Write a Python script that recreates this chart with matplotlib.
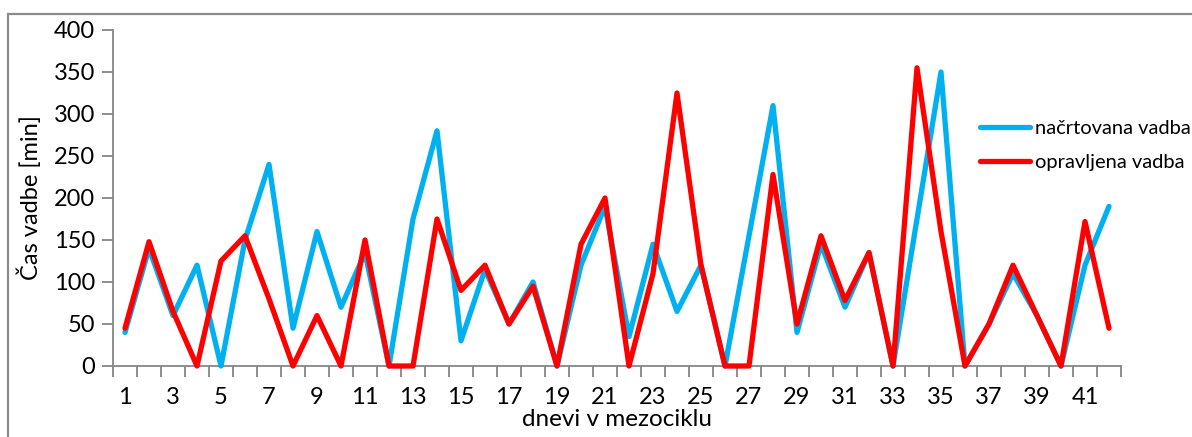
import matplotlib
matplotlib.use("Agg")
import matplotlib.pyplot as plt
from matplotlib.patches import Rectangle
import numpy as np

plt.rcParams['font.family'] = ['Lato', 'DejaVu Sans']

days = list(range(1, 43))
planned = [40, 140, 60, 120, 0, 150, 240, 45, 160, 70, 135, 0, 175, 280, 30,
           115, 50, 100, 0, 120, 190, 35, 145, 65, 120, 0, 155, 310, 40, 145,
           70, 135, 0, 175, 350, 0, 50, 110, 60, 0, 120, 190]
actual = [45, 148, 65, 0, 125, 155, 80, 0, 60, 0, 150, 0, 0, 175, 90,
          120, 50, 95, 0, 145, 200, 0, 110, 325, 120, 0, 0, 228, 50, 155,
          78, 135, 0, 355, 160, 0, 50, 120, 60, 0, 172, 45]
series_names = ["načrtovana vadba", "opravljena vadba"]
y_ticks = [0, 50, 100, 150, 200, 250, 300, 350, 400]
x_labels = list(range(1, 43, 2))

W, H = 1192, 437
fig = plt.figure(figsize=(W / 100, H / 100), dpi=100)

# outer chart frame
fig.patches.append(Rectangle((8 / W, -0.05), 1.1, 1 - 14 / H + 0.05,
                             transform=fig.transFigure, fill=False,
                             edgecolor='#8c8c8c', linewidth=1.6))

ax = fig.add_axes([113 / W, (H - 366) / H, 1008 / W, 336 / H])

ax.plot(days, planned, color='#00B0F0', lw=3.8, solid_joinstyle='round',
        solid_capstyle='round', label=series_names[0], clip_on=False, zorder=3)
ax.plot(days, actual, color='#FF0000', lw=3.8, solid_joinstyle='round',
        solid_capstyle='round', label=series_names[1], clip_on=False, zorder=4)

ax.set_xlim(0.5, 42.5)
ax.set_ylim(0, 400)

for s in ['top', 'right']:
    ax.spines[s].set_visible(False)
for s in ['left', 'bottom']:
    ax.spines[s].set_color('#868686')
    ax.spines[s].set_linewidth(1.3)
    ax.spines[s].set_zorder(1)

ax.set_yticks(y_ticks)
ax.tick_params(axis='y', length=8, width=1.3, color='#868686',
               labelsize=17, pad=5)
ax.set_xticks(x_labels)
ax.set_xticks(np.arange(0.5, 43, 1), minor=True)
ax.tick_params(axis='x', which='major', length=0, labelsize=17, pad=15)
ax.tick_params(axis='x', which='minor', length=8, width=1.3, color='#868686')

ax.set_ylabel("Čas vadbe [min]", fontsize=17, labelpad=8)
ax.set_xlabel("dnevi v mezociklu", fontsize=17.5, labelpad=1)

ax.legend(loc='center left', bbox_to_anchor=(980 / W, 1 - 145.5 / H),
          bbox_transform=fig.transFigure, frameon=False, fontsize=14.5,
          handlelength=2.5, handletextpad=0.25, labelspacing=0.85,
          borderpad=0, borderaxespad=0)

fig.savefig("out.png", dpi=100)
